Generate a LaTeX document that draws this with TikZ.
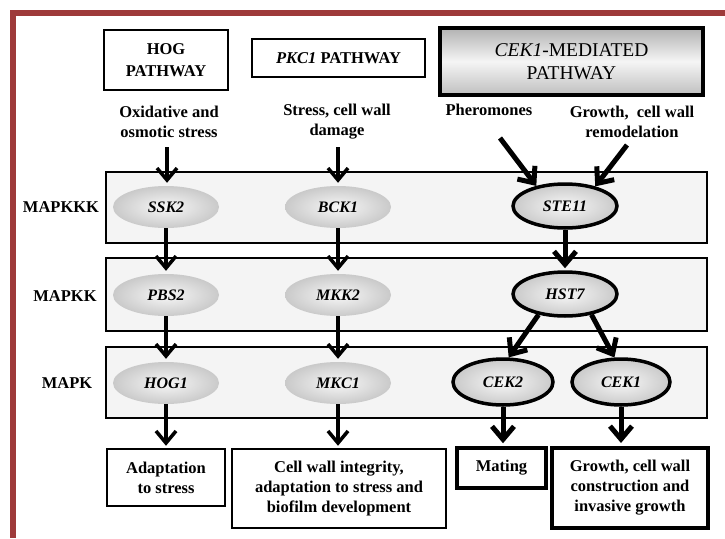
\documentclass[tikz,border=0pt]{standalone}
\usepackage{fontspec}
\setmainfont{Liberation Serif}
\usetikzlibrary{arrows.meta,shapes.geometric,shadings}
\definecolor{frame}{RGB}{158,58,58}
\definecolor{rowfill}{RGB}{244,244,244}
\tikzset{
  txt/.style={align=center,inner sep=0pt,font=\fontsize{16.5}{20}\selectfont\bfseries},
  lbl/.style={inner sep=0pt,font=\fontsize{16.5}{20}\selectfont\bfseries},
  rowbox/.style={draw,line width=2.5pt,fill=rowfill,minimum width=601pt,inner sep=0pt},
  hdrbox/.style={draw,line width=2.5pt,fill=white,align=center,inner sep=0pt,font=\fontsize{16.5}{22}\selectfont\bfseries},
  outbox/.style={draw,line width=2.5pt,fill=white,align=center,inner sep=0pt,font=\fontsize{16.5}{20}\selectfont\bfseries},
  grayell/.style={ellipse,inner sep=0pt,minimum width=106pt,minimum height=42pt,
     inner color=gray!6,outer color=gray!42,font=\fontsize{16}{18}\selectfont\bfseries\itshape},
  blackell/.style={grayell,draw,line width=3.5pt,minimum width=104pt,minimum height=44pt},
  arr/.style={line width=3.5pt,-{Straight Barb[length=12pt,width=20pt]}},
  thickarr/.style={line width=5pt,-{Straight Barb[length=13pt,width=22pt]}}
}
\begin{document}
\begin{tikzpicture}[x=1pt,y=-1pt]
\useasboundingbox (0,0) rectangle (725,538);
% frame
\fill[frame] (10,9.5) rectangle (725,15.5);
\fill[frame] (10,9.5) rectangle (16,538);

% headers
\node[hdrbox,minimum width=124pt,minimum height=60pt] (hog) at (166,60) {HOG\\PATHWAY};
\node[hdrbox,minimum width=173pt,minimum height=38pt] (pkc) at (338.5,58) {\textit{PKC1} PATHWAY};
\node[draw,line width=4pt,align=center,inner sep=0pt,minimum width=263pt,minimum height=67pt,
      top color=gray!60,bottom color=gray!50,middle color=gray!8,
      font=\fontsize{19.5}{23}\selectfont] (cek) at (571.5,61.5) {\textit{CEK1}-MEDIATED\\PATHWAY};

% stimuli
\node[txt] (ox) at (169,122) {Oxidative and\\osmotic stress};
\node[txt] (st) at (337,122) {Stress, cell wall\\damage};
\node[txt,anchor=base] (ph) at (489,115) {Pheromones};
\node[txt] (gr) at (632,122) {Growth,\ \ cell wall\\remodelation};

% rows
\node[rowbox,minimum height=71pt] (rowA) at (406.5,207.5) {};
\node[rowbox,minimum height=73pt] (rowB) at (406.5,294.5) {};
\node[rowbox,minimum height=71pt] (rowC) at (406.5,382.5) {};
\node[lbl] (lA) at (61,207) {MAPKKK};
\node[lbl] (lB) at (65,296) {MAPKK};
\node[lbl] (lC) at (67,383) {MAPK};

% kinases
\node[grayell] (ssk2) at (166,207) {SSK2};
\node[grayell] (bck1) at (338,207) {BCK1};
\node[blackell] (ste11) at (565,206) {STE11};
\node[grayell] (pbs2) at (166,295) {PBS2};
\node[grayell] (mkk2) at (338,295) {MKK2};
\node[blackell] (hst7) at (565,294) {HST7};
\node[grayell] (hog1) at (166,383) {HOG1};
\node[grayell] (mkc1) at (338,383) {MKC1};
\node[blackell,minimum width=100pt,minimum height=46pt] (cek2) at (503,382) {CEK2};
\node[blackell,minimum width=98pt,minimum height=46pt] (cek1) at (621,382) {CEK1};

% outputs
\node[outbox,minimum width=118pt,minimum height=57pt] (adapt) at (166,477.5) {Adaptation\\to stress};
\node[outbox,minimum width=214pt,minimum height=79pt] (cwi) at (339,488.5) {Cell wall integrity,\\adaptation to stress and\\biofilm development};
\node[outbox,line width=3.5pt,minimum width=89pt,minimum height=40pt] (mating) at (501.5,468) {Mating};
\node[outbox,line width=4pt,minimum width=156pt,minimum height=80pt] (growth) at (630,488) {Growth, cell wall\\construction and\\invasive growth};

% input arrows
\coordinate (i1) at (167,147);
\coordinate (i2) at (338,147);
\coordinate (i3) at (500,138);
\coordinate (i4) at (627,145);
\draw[arr,shorten >=3pt] (i1) -- (ssk2.north -| i1);
\draw[arr,shorten >=3pt] (i2) -- (bck1.north);
\draw[thickarr] (i3) -- (ste11.145);
\draw[thickarr] (i4) -- (ste11.33);

% cascade arrows
\draw[arr,shorten >=3pt] (ssk2.south) -- (pbs2.north);
\draw[arr,shorten >=3pt] (bck1.south) -- (mkk2.north);
\draw[thickarr,shorten >=2pt] (ste11.south) -- (hst7.north);
\draw[arr,shorten >=3pt] (pbs2.south) -- (hog1.north);
\draw[arr,shorten >=3pt] (mkk2.south) -- (mkc1.north);
\draw[thickarr] (hst7.218) -- (cek2.77);
\draw[thickarr] (hst7.322) -- (cek1.105);

% output arrows
\draw[arr,shorten >=2pt] (hog1.south) -- (adapt.north);
\draw[arr,shorten >=2pt] (mkc1.south) -- (mkc1.south |- cwi.north);
\draw[thickarr,shorten >=3pt] (cek2.south) -- (cek2.south |- mating.north);
\draw[thickarr,shorten >=3pt] (cek1.south) -- (cek1.south |- growth.north);
\end{tikzpicture}
\end{document}
